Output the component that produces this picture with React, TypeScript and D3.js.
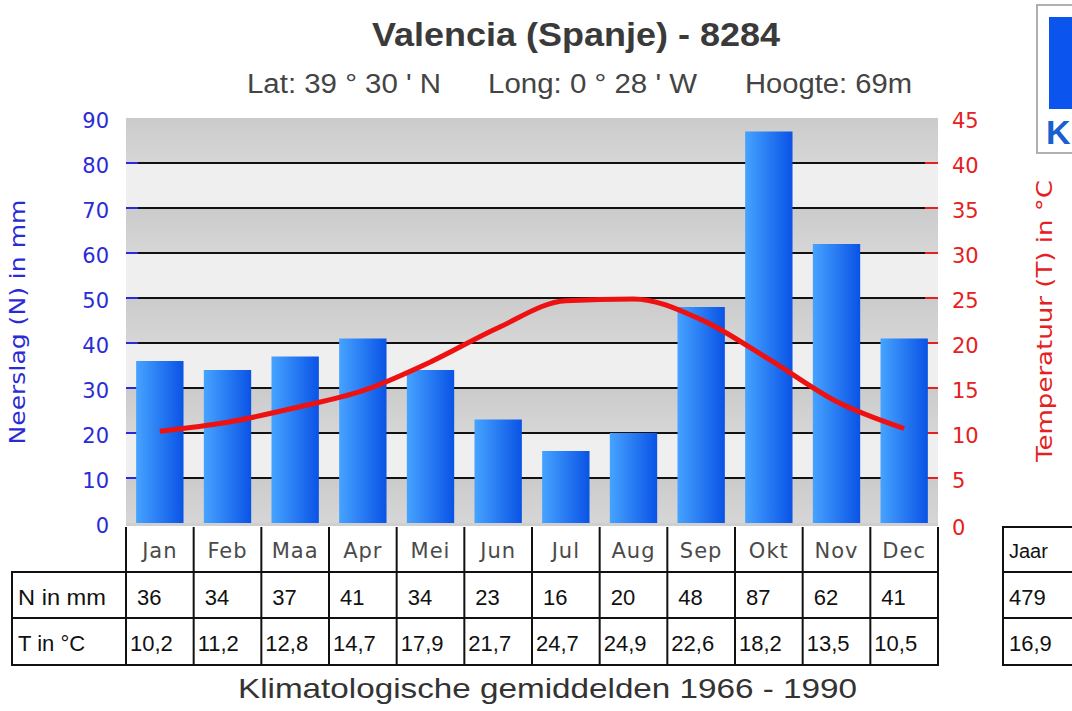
import React from 'react';
import * as d3 from 'd3';

const months = ['Jan', 'Feb', 'Maa', 'Apr', 'Mei', 'Jun', 'Jul', 'Aug', 'Sep', 'Okt', 'Nov', 'Dec'];
const precipitation = [36, 34, 37, 41, 34, 23, 16, 20, 48, 87, 62, 41];
const temperature = [10.2, 11.2, 12.8, 14.7, 17.9, 21.7, 24.7, 24.9, 22.6, 18.2, 13.5, 10.5];
const precipTicks = [0, 10, 20, 30, 40, 50, 60, 70, 80, 90];
const tempTicks = [0, 5, 10, 15, 20, 25, 30, 35, 40, 45];
const yearTotals = { precip: 479, temp: 16.9 };

const W = 1072;
const H = 711;
const plot = { left: 126, right: 938, top: 118, bottom: 523 };

const fmtT = (v: number) => d3.format('.1f')(v).replace('.', ',');

const App: React.FC = () => {
  const x = d3.scaleBand<string>().domain(months).range([plot.left, plot.right]);
  const yN = d3.scaleLinear().domain([0, 90]).range([plot.bottom, plot.top]);
  const yT = d3.scaleLinear().domain([0, 45]).range([plot.bottom, plot.top]);
  const barW = x.bandwidth() * 0.7;

  const line = d3
    .line<number>()
    .x((_, i) => (x(months[i]) as number) + x.bandwidth() / 2)
    .y(d => yT(d))
    .curve(d3.curveMonotoneX);

  // alternating bands between gridlines
  const bands = precipTicks.slice(0, -1).map((t, i) => ({ lo: t, hi: precipTicks[i + 1], dark: i % 2 === 0 }));

  const tableLeft = 12;
  const headTop = 527;
  const row1 = 572;
  const row2 = 618;
  const row3 = 665;
  const sans = 'Liberation Sans, Arial, sans-serif';
  const dj = 'DejaVu Sans, sans-serif';

  return (
    <svg width={W} height={H} style={{ position: 'absolute', left: 0, top: 0, background: '#fff' }}>
      <defs>
        <linearGradient id="barGrad" x1="0" x2="1" y1="0" y2="0">
          <stop offset="0%" stopColor="#46a3ff" />
          <stop offset="100%" stopColor="#0a53e6" />
        </linearGradient>
        <linearGradient id="greyGrad" x1="0" x2="0" y1="0" y2="1">
          <stop offset="0%" stopColor="#cbcbcb" />
          <stop offset="100%" stopColor="#d6d6d6" />
        </linearGradient>
      </defs>

      {/* title */}
      <text x={372} y={46} fontFamily={sans} fontWeight="bold" fontSize={33} fill="#3a3a3a"
        textLength={408} lengthAdjust="spacingAndGlyphs">
        Valencia (Spanje) - 8284
      </text>
      <text x={247} y={93} fontFamily={sans} fontSize={27} fill="#444" textLength={194} lengthAdjust="spacingAndGlyphs">Lat: 39 ° 30 ' N</text>
      <text x={488} y={93} fontFamily={sans} fontSize={27} fill="#444" textLength={209} lengthAdjust="spacingAndGlyphs">Long: 0 ° 28 ' W</text>
      <text x={745} y={93} fontFamily={sans} fontSize={27} fill="#444" textLength={167} lengthAdjust="spacingAndGlyphs">Hoogte: 69m</text>

      {/* logo (clipped at edge) */}
      <rect x={1037} y={5} width={60} height={148} fill="#fff" stroke="#b0b0b0" strokeWidth={2} />
      <rect x={1049} y={17} width={50} height={92} fill="#0b55ee" />
      <text x={1046} y={144} fontFamily={sans} fontWeight="bold" fontSize={34} fill="#1a5fd0">K</text>

      {/* plot background */}
      {bands.map((b, i) => (
        <rect
          key={i}
          x={plot.left}
          y={yN(b.hi)}
          width={plot.right - plot.left}
          height={yN(b.lo) - yN(b.hi)}
          fill={b.dark ? 'url(#greyGrad)' : '#efefef'}
        />
      ))}
      <rect x={plot.left} y={plot.bottom} width={plot.right - plot.left} height={3} fill="#cfcfcf" />

      {/* gridlines */}
      {precipTicks.slice(1, -1).map(t => (
        <line key={t} x1={plot.left} x2={plot.right} y1={yN(t)} y2={yN(t)} stroke="#111" strokeWidth={2} />
      ))}
      {precipTicks.slice(1, -1).map(t => (
        <line key={'l' + t} x1={plot.left} x2={plot.left + 12} y1={yN(t)} y2={yN(t)} stroke="#2a2ad8" strokeWidth={2} />
      ))}
      {tempTicks.slice(1, -1).map(t => (
        <line key={'r' + t} x1={plot.right - 13} x2={plot.right} y1={yT(t)} y2={yT(t)} stroke="#e52020" strokeWidth={2} />
      ))}

      {/* bars */}
      {precipitation.map((v, i) => (
        <rect
          key={months[i]}
          x={(x(months[i]) as number) + (x.bandwidth() - barW) / 2}
          y={yN(v)}
          width={barW}
          height={yN(0) - yN(v)}
          fill="url(#barGrad)"
        />
      ))}

      {/* temperature line */}
      <path d={line(temperature) || ''} fill="none" stroke="#ee1111" strokeWidth={5} strokeLinejoin="round" />

      {/* left axis */}
      {precipTicks.map(t => (
        <text key={t} x={109} y={yN(t) + 2} dy="0.36em" textAnchor="end" fontFamily={dj} fontSize={21} fill="#2b2bd6">
          {t}
        </text>
      ))}
      <text
        transform={`translate(25,322) rotate(-90)`}
        textAnchor="middle"
        fontFamily={dj}
        fontSize={21}
        fill="#2b2bd6"
        textLength={245}
        lengthAdjust="spacingAndGlyphs"
      >
        Neerslag (N) in mm
      </text>

      {/* right axis */}
      {tempTicks.map(t => (
        <text key={t} x={952} y={yT(t) + (t === 0 ? 4 : 2)} dy="0.36em" fontFamily={dj} fontSize={21} fill="#e52020">
          {t}
        </text>
      ))}
      <text
        transform={`translate(1052,321) rotate(-90)`}
        textAnchor="middle"
        fontFamily={dj}
        fontSize={21}
        fill="#e52020"
        textLength={282}
        lengthAdjust="spacingAndGlyphs"
      >
        Temperatuur (T) in °C
      </text>

      {/* month header + table */}
      {months.map(m => (
        <text
          key={m}
          x={(x(m) as number) + x.bandwidth() / 2}
          y={558}
          textAnchor="middle"
          fontFamily={dj}
          fontSize={21}
          letterSpacing={1}
          fill="#4a4a4a"
        >
          {m}
        </text>
      ))}
      {[...months.map(m => x(m) as number), plot.right].map((bx, i) => (
        <line key={'v' + i} x1={bx} x2={bx} y1={headTop} y2={row3} stroke="#111" strokeWidth={2} />
      ))}
      <line x1={tableLeft} x2={tableLeft} y1={row1} y2={row3} stroke="#111" strokeWidth={2} />
      {[row1, row2, row3].map(ry => (
        <line key={ry} x1={tableLeft - 1} x2={plot.right + 1} y1={ry} y2={ry} stroke="#111" strokeWidth={2} />
      ))}
      <text x={18} y={605} fontFamily={sans} fontSize={22} fill="#111" textLength={88} lengthAdjust="spacingAndGlyphs">N in mm</text>
      <text x={18} y={651} fontFamily={sans} fontSize={22} fill="#111">T in °C</text>
      {precipitation.map((v, i) => (
        <text key={'n' + i} x={(x(months[i]) as number) + 11} y={605} fontFamily={sans} fontSize={22} fill="#111">
          {v}
        </text>
      ))}
      {temperature.map((v, i) => (
        <text key={'t' + i} x={(x(months[i]) as number) + 4} y={651} fontFamily={sans} fontSize={22} fill="#111">
          {fmtT(v)}
        </text>
      ))}

      {/* year table (clipped at edge) */}
      <rect x={1003} y={headTop} width={90} height={row3 - headTop} fill="none" stroke="#111" strokeWidth={2} />
      <line x1={1003} x2={1093} y1={row1} y2={row1} stroke="#111" strokeWidth={2} />
      <line x1={1003} x2={1093} y1={row2} y2={row2} stroke="#111" strokeWidth={2} />
      <text x={1009} y={558} fontFamily={sans} fontSize={20} fill="#111">Jaar</text>
      <text x={1009} y={605} fontFamily={sans} fontSize={22} fill="#111">{yearTotals.precip}</text>
      <text x={1009} y={651} fontFamily={sans} fontSize={22} fill="#111">{fmtT(yearTotals.temp)}</text>

      {/* footer */}
      <text x={238} y={698} fontFamily={sans} fontSize={28} fill="#333"
        textLength={619} lengthAdjust="spacingAndGlyphs">
        Klimatologische gemiddelden 1966 - 1990
      </text>
    </svg>
  );
};

export default App;
